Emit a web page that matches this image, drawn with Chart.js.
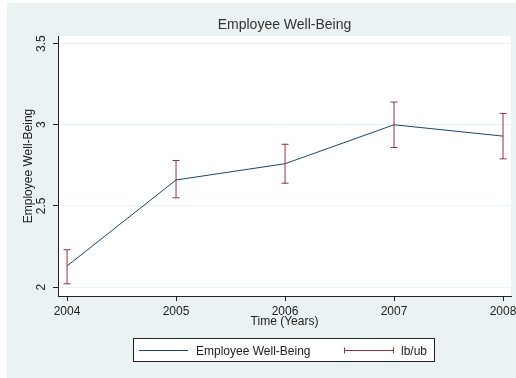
<!DOCTYPE html>
<html lang="en">
<head>
  <meta charset="UTF-8" />
  <title>Employee Well-Being</title>
  <script src="https://cdn.jsdelivr.net/npm/chart.js"></script>
  <style>
    body { margin: 0; background: #fff; }
    #wrap { width: 516px; height: 378px; }
  </style>
</head>
<body>
  <div id="wrap"><canvas id="wellBeingChart" width="516" height="378"></canvas></div>

<script>
  // yearly means with lower / upper bounds
  const years = [2004, 2005, 2006, 2007, 2008];
  const wellBeing = [2.13, 2.66, 2.76, 3.00, 2.93];
  const lowerBound = [2.02, 2.55, 2.64, 2.86, 2.79];
  const upperBound = [2.23, 2.78, 2.88, 3.14, 3.07];

  const yTicks = [2, 2.5, 3, 3.5];
  const seriesNames = ["Employee Well-Being", "lb/ub"];

  const azul = "#1a476f";
  const vinho = "#90353b";
  const fundo = "#eaf2f3";
  const texto = "#222";

  Chart.defaults.font.family = "'Liberation Sans', Arial, sans-serif";
  Chart.defaults.font.size = 12;
  Chart.defaults.color = texto;

  // one dataset for all the caps, broken by null points between years
  const barras = [];
  for (let i = 0; i < years.length; i++) {
    barras.push({ x: years[i], y: lowerBound[i] });
    barras.push({ x: years[i], y: upperBound[i] });
    barras.push({ x: years[i], y: null });
  }

  const fundoPlugin = {
    id: "fundo",
    beforeDraw(chart) {
      const ctx = chart.ctx;
      const a = chart.chartArea;
      ctx.save();
      ctx.fillStyle = "#fff";
      ctx.fillRect(0, 0, chart.width, chart.height);
      ctx.fillStyle = fundo;
      ctx.fillRect(7, 3, chart.width - 7, chart.height - 3);
      ctx.fillStyle = "#fff";
      ctx.fillRect(a.left, a.top, a.right - a.left, a.bottom - a.top);
      ctx.restore();
    }
  };

  // boxed legend under the axis title
  const legendaPlugin = {
    id: "legenda",
    afterDraw(chart) {
      const ctx = chart.ctx;
      const y = 350.5;
      ctx.save();
      ctx.fillStyle = "#fff";
      ctx.fillRect(133.5, 338.5, 301, 23);
      ctx.strokeStyle = texto;
      ctx.lineWidth = 1;
      ctx.strokeRect(133.5, 338.5, 301, 23);

      ctx.strokeStyle = azul;
      ctx.beginPath();
      ctx.moveTo(139, y);
      ctx.lineTo(188, y);
      ctx.stroke();

      ctx.strokeStyle = vinho;
      ctx.beginPath();
      ctx.moveTo(344, y);
      ctx.lineTo(394, y);
      ctx.moveTo(344.5, y - 3);
      ctx.lineTo(344.5, y + 3);
      ctx.moveTo(393.5, y - 3);
      ctx.lineTo(393.5, y + 3);
      ctx.stroke();

      ctx.fillStyle = texto;
      ctx.font = "12px 'Liberation Sans', Arial, sans-serif";
      ctx.textBaseline = "middle";
      ctx.textAlign = "left";
      ctx.fillText(seriesNames[0], 196, y + 1);
      ctx.fillText(seriesNames[1], 401, y + 1);
      ctx.restore();
    }
  };

  const config = {
    type: "line",
    data: {
      datasets: [
        {
          label: seriesNames[0],
          data: years.map((ano, i) => ({ x: ano, y: wellBeing[i] })),
          borderColor: azul,
          borderWidth: 1,
          pointRadius: 0,
          tension: 0,
          order: 1
        },
        {
          label: seriesNames[1],
          data: barras,
          borderColor: vinho,
          borderWidth: 1,
          pointStyle: "line",
          pointRadius: 3.5,
          pointBorderColor: vinho,
          pointBorderWidth: 1,
          spanGaps: false,
          order: 0
        }
      ]
    },
    options: {
      responsive: false,
      animation: false,
      layout: { padding: { top: 0, right: 5, bottom: 49, left: 0 } },
      scales: {
        x: {
          type: "linear",
          min: 2003.917,
          max: 2008.073,
          afterBuildTicks: (scale) => { scale.ticks = years.map(v => ({ value: v })); },
          afterFit: (scale) => {
            scale.height = 33;
            // let the last year label run past the plot edge
            scale.paddingLeft = 0;
            scale.paddingRight = 0;
          },
          ticks: { autoSkip: false, maxRotation: 0, padding: 3, callback: v => String(v) },
          grid: { drawOnChartArea: false, tickLength: 5, tickColor: texto },
          border: { color: texto, width: 1 },
          title: { display: true, text: "Time (Years)", padding: { top: 0, bottom: 0 } }
        },
        y: {
          min: 1.945,
          max: 3.547,
          afterBuildTicks: (scale) => { scale.ticks = yTicks.map(v => ({ value: v })); },
          afterFit: (scale) => {
            scale.width = 58;
            scale.paddingTop = 0;
            scale.paddingBottom = 0;
          },
          ticks: {
            autoSkip: false,
            minRotation: 90,
            maxRotation: 90,
            crossAlign: "center",
            padding: 3,
            callback: v => String(v)
          },
          grid: { color: fundo, tickLength: 5, tickColor: texto },
          border: { color: texto, width: 1 },
          title: { display: true, text: "Employee Well-Being", padding: { top: 21, bottom: 0 } }
        }
      },
      plugins: {
        legend: { display: false },
        tooltip: { enabled: false },
        title: {
          display: true,
          text: "Employee Well-Being",
          fullSize: false,
          color: "#333",
          font: { size: 14, weight: "normal" },
          padding: { top: 16.8, bottom: 2.4 }
        }
      }
    },
    plugins: [fundoPlugin, legendaPlugin]
  };

  const grafico = new Chart(document.getElementById("wellBeingChart"), config);
</script>
</body>
</html>
